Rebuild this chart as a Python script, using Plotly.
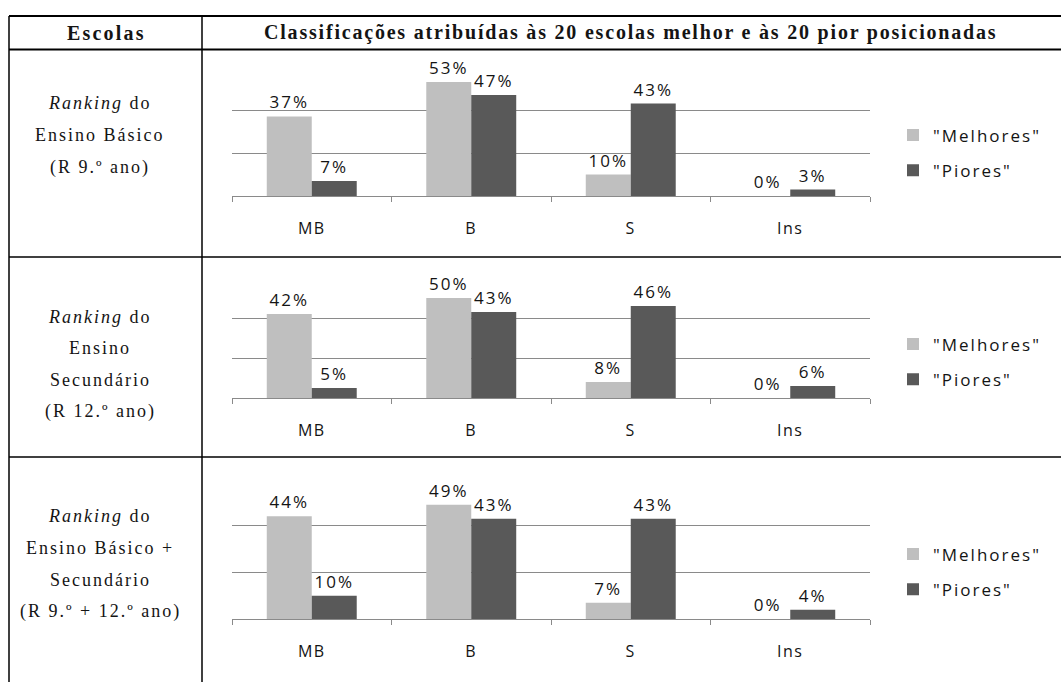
import plotly.graph_objects as go

# ---- data -------------------------------------------------------------
categories = ["MB", "B", "S", "Ins"]
series_names = ['"Melhores"', '"Piores"']

melhores_basico = [37, 53, 10, 0]
piores_basico = [7, 47, 43, 3]

melhores_secundario = [42, 50, 8, 0]
piores_secundario = [5, 43, 46, 6]

melhores_total = [44, 49, 7, 0]
piores_total = [10, 43, 43, 4]

header_left = "Escolas"
header_right = "Classificações atribuídas às 20 escolas melhor e às 20 pior posicionadas"

row_labels = [
    ["<i>Ranking</i> do", "Ensino Básico", "(R 9.º ano)"],
    ["<i>Ranking</i> do", "Ensino", "Secundário", "(R 12.º ano)"],
    ["<i>Ranking</i> do", "Ensino Básico +", "Secundário", "(R 9.º + 12.º ano)"],
]

# ---- styling ----------------------------------------------------------
W, H = 1061, 682
LIGHT = "#bfbfbf"
DARK = "#595959"
GRID = "#8a8a8a"
TXT = "#141414"
SANS = "Open Sans"
SERIF = "Liberation Serif"


def spaced(s, px):
    return f'<span style="letter-spacing:{px}px">{s}</span>'


def px_x(x):
    return x / W


def px_y(y):
    return 1 - y / H


# pixel geometry of each chart row: (top gridline, baseline)
rows = [(67, 196), (278, 398), (479, 619)]
row_text_y = [[103, 135, 167], [317, 348, 380, 411], [516, 548, 580, 611]]
legend_mid = [153, 362, 572]
plot_x0, plot_x1 = 232, 870

data_rows = [
    (melhores_basico, piores_basico),
    (melhores_secundario, piores_secundario),
    (melhores_total, piores_total),
]

fig = go.Figure()
layout = {}

for i, ((mel, pio), (top, base)) in enumerate(zip(data_rows, rows)):
    sfx = "" if i == 0 else str(i + 1)
    leg = "legend" if i == 0 else f"legend{i + 1}"
    for name, vals, color, grp in [
        (series_names[0], mel, LIGHT, "m"),
        (series_names[1], pio, DARK, "p"),
    ]:
        fig.add_trace(
            go.Bar(
                x=categories,
                y=vals,
                name=spaced(name, 2),
                marker=dict(color=color, line=dict(width=0)),
                texttemplate=spaced("%{y}%", 2),
                textposition="outside",
                textfont=dict(family=SANS, size=17, color=TXT),
                cliponaxis=False,
                constraintext="none",
                xaxis="x" + sfx,
                yaxis="y" + sfx,
                legend=leg,
                legendgroup=f"{grp}{i}",
                hoverinfo="skip",
            )
        )

    layout["xaxis" + sfx] = dict(
        domain=[px_x(plot_x0), px_x(plot_x1)],
        anchor="y" + sfx,
        type="category",
        categoryorder="array",
        categoryarray=categories,
        tickvals=categories,
        ticktext=[spaced(c, 1.5) for c in categories],
        range=[-0.5, len(categories) - 0.5],
        tickson="boundaries",
        ticks="outside",
        ticklen=5,
        tickcolor=GRID,
        tickwidth=1,
        showline=True,
        linecolor=GRID,
        linewidth=1,
        showgrid=False,
        zeroline=False,
        ticklabelstandoff=18,
        tickfont=dict(family=SANS, size=16, color=TXT),
        fixedrange=True,
    )
    layout["yaxis" + sfx] = dict(
        domain=[px_y(base), px_y(top)],
        anchor="x" + sfx,
        range=[0, 60],
        dtick=20,
        tick0=0,
        showgrid=True,
        gridcolor=GRID,
        gridwidth=1,
        showticklabels=False,
        ticks="",
        zeroline=False,
        showline=False,
        fixedrange=True,
    )
    layout[leg] = dict(
        x=px_x(893),
        xanchor="left",
        y=px_y(legend_mid[i]),
        yanchor="middle",
        font=dict(family=SANS, size=17, color=TXT),
        bgcolor="rgba(0,0,0,0)",
        tracegroupgap=10,
        itemclick=False,
        itemdoubleclick=False,
    )

# ---- table frame --------------------------------------------------------
shapes = []


def hline(y, w=1.5):
    shapes.append(dict(type="line", xref="paper", yref="paper",
                       x0=px_x(9), x1=1, y0=px_y(y), y1=px_y(y),
                       line=dict(color="black", width=w)))


def vline(x, w=1.5):
    shapes.append(dict(type="line", xref="paper", yref="paper",
                       x0=px_x(x), x1=px_x(x), y0=px_y(16), y1=0,
                       line=dict(color="black", width=w)))


hline(16, 2)
hline(49.5, 2)
hline(257, 1.5)
hline(457, 1.5)
vline(9, 1.5)
vline(202, 1.5)

# ---- table text ---------------------------------------------------------
def label(text, x, y, size, spacing):
    return dict(text=spaced(text, spacing), x=px_x(x), y=px_y(y),
                xref="paper", yref="paper", xanchor="center", yanchor="middle",
                showarrow=False, font=dict(family=SERIF, size=size, color=TXT))


annotations = [
    label(f"<b>{header_left}</b>", 106, 33, 20, 2.2),
    label(f"<b>{header_right}</b>", 630, 33, 20, 1.8),
]
for lines, ys in zip(row_labels, row_text_y):
    for line, y in zip(lines, ys):
        annotations.append(label(line, 100, y, 18, 2))

fig.update_layout(
    width=W,
    height=H,
    margin=dict(l=0, r=0, t=0, b=0),
    paper_bgcolor="white",
    plot_bgcolor="white",
    barmode="group",
    bargap=0.436,
    bargroupgap=0,
    showlegend=True,
    shapes=shapes,
    annotations=annotations,
    **layout,
)

fig.write_html("out.html")
